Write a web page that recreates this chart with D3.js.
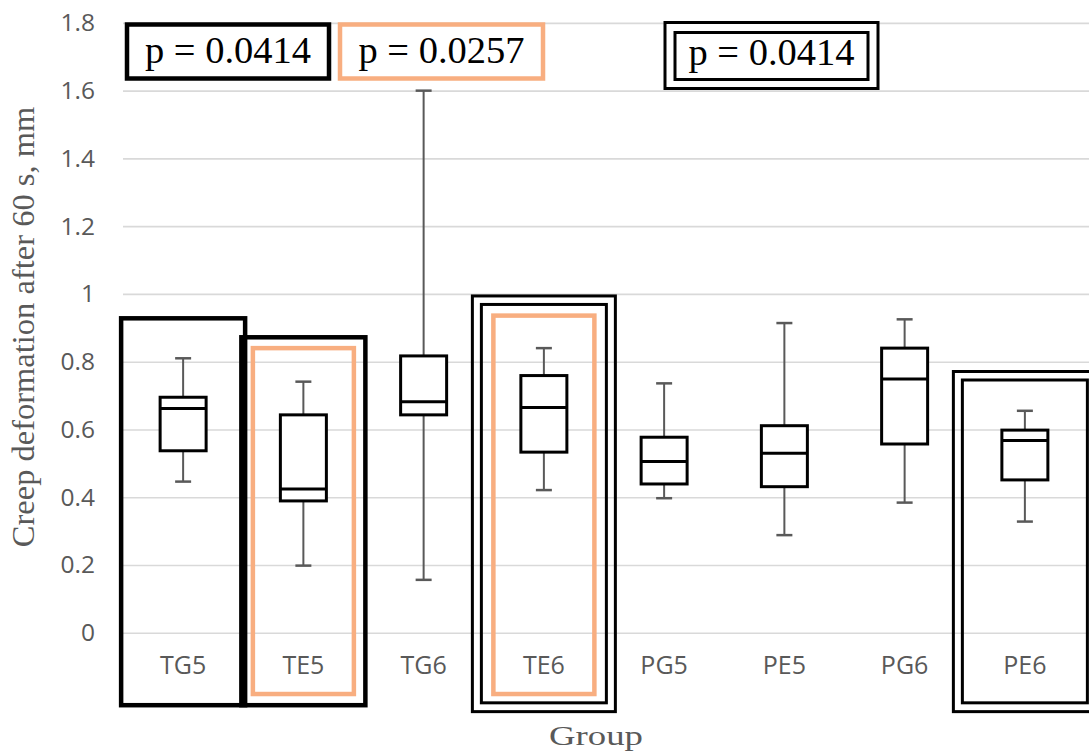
<!DOCTYPE html>
<html>
<head>
<meta charset="utf-8">
<script src="https://cdn.jsdelivr.net/npm/d3@7"></script>
<style>
  body { margin: 0; background: #fff; }
  svg { display: block; }
</style>
</head>
<body>
<div id="chart"></div>
<script>
// box plot values
var categories = ["TG5", "TE5", "TG6", "TE6", "PG5", "PE5", "PG6", "PE6"];
var whiskerMin = [0.446, 0.198, 0.156, 0.421, 0.397, 0.288, 0.384, 0.328];
var q1         = [0.537, 0.389, 0.643, 0.533, 0.439, 0.431, 0.557, 0.451];
var median     = [0.662, 0.424, 0.682, 0.665, 0.505, 0.530, 0.749, 0.567];
var q3         = [0.695, 0.643, 0.817, 0.759, 0.577, 0.611, 0.840, 0.598];
var whiskerMax = [0.810, 0.741, 1.600, 0.840, 0.736, 0.914, 0.925, 0.655];
var yTicks = [0, 0.2, 0.4, 0.6, 0.8, 1, 1.2, 1.4, 1.6, 1.8];

// highlight frames round some groups (top of frame in data units)
var frameCats  = ["TG5", "TE5", "TE6", "PE6"];
var frameTop   = [0.928, 0.872, 0.994, 0.771];
var frameKind  = ["single", "single", "double", "double"];
var orangeCats = ["TE5", "TE6"];
var orangeTop  = [0.840, 0.936];

var pLabels = ["p = 0.0414", "p = 0.0257", "p = 0.0414"];

var W = 1089, H = 756;
var margin = {top: 22.9, left: 123, right: 4, bottom: 123.3};
var grey = "#595959", orange = "#f8ae80";

var svg = d3.select("#chart").append("svg")
    .attr("width", W)
    .attr("height", H);

var x = d3.scaleBand()
    .domain(categories)
    .range([margin.left, W - margin.right])
    .padding(0);

var y = d3.scaleLinear()
    .domain([0, 1.8])
    .range([H - margin.bottom, margin.top]);

// gridlines
svg.append("g")
    .attr("transform", "translate(" + margin.left + ",0)")
    .call(d3.axisLeft(y).tickValues(yTicks).tickSize(-(W - margin.left)).tickFormat(""))
    .call(function(g) { g.select(".domain").remove(); })
    .selectAll("line")
    .attr("stroke", "#d9d9d9")
    .attr("stroke-width", 1.6);

// y tick labels
svg.append("g")
    .attr("transform", "translate(" + 95 + ",0)")
    .call(d3.axisLeft(y).tickValues(yTicks).tickSize(0).tickPadding(0)
        .tickFormat(function(d) { return String(+d.toFixed(1)); }))
    .call(function(g) { g.select(".domain").remove(); })
    .selectAll("text")
    .attr("fill", grey)
    .style("font-family", "'Open Sans', sans-serif")
    .style("font-size", "24.5px");

var cx = function(c) { return x(c) + x.bandwidth() / 2; };
var bottomVal = -0.214;

// black frames
frameCats.forEach(function(c, i) {
  if (frameKind[i] == "single") {
    svg.append("rect")
        .attr("x", cx(c) - 62).attr("width", 124)
        .attr("y", y(frameTop[i]))
        .attr("height", y(bottomVal) - y(frameTop[i]))
        .attr("fill", "none").attr("stroke", "#000").attr("stroke-width", 4.5);
  } else {
    svg.append("rect")
        .attr("x", cx(c) - 71.5).attr("width", 143)
        .attr("y", y(frameTop[i]))
        .attr("height", y(-0.233) - y(frameTop[i]))
        .attr("fill", "none").attr("stroke", "#000").attr("stroke-width", 3);
    var innerTop = y(frameTop[i]) + 8.5;
    svg.append("rect")
        .attr("x", cx(c) - 62.5).attr("width", 125)
        .attr("y", innerTop)
        .attr("height", y(-0.207) - innerTop)
        .attr("fill", "none").attr("stroke", "#000").attr("stroke-width", 3);
  }
});

// orange frames
orangeCats.forEach(function(c, i) {
  svg.append("rect")
      .attr("x", cx(c) - 50.5).attr("width", 101)
      .attr("y", y(orangeTop[i]))
      .attr("height", y(-0.181) - y(orangeTop[i]))
      .attr("fill", "none").attr("stroke", orange).attr("stroke-width", 4.5);
});

// boxes
var boxW = 46, capW = 16;
var g = svg.selectAll(".box")
    .data(categories)
    .enter().append("g")
    .attr("class", "box");

g.append("line")
    .attr("x1", cx).attr("x2", cx)
    .attr("y1", function(d, i) { return y(whiskerMin[i]); })
    .attr("y2", function(d, i) { return y(whiskerMax[i]); })
    .attr("stroke", grey).attr("stroke-width", 2);

[whiskerMin, whiskerMax].forEach(function(arr) {
  g.append("line")
      .attr("x1", function(d) { return cx(d) - capW / 2; })
      .attr("x2", function(d) { return cx(d) + capW / 2; })
      .attr("y1", function(d, i) { return y(arr[i]); })
      .attr("y2", function(d, i) { return y(arr[i]); })
      .attr("stroke", grey).attr("stroke-width", 2.5);
});

g.append("rect")
    .attr("x", function(d) { return cx(d) - boxW / 2; })
    .attr("width", boxW)
    .attr("y", function(d, i) { return y(q3[i]); })
    .attr("height", function(d, i) { return y(q1[i]) - y(q3[i]); })
    .attr("fill", "#fff").attr("stroke", "#000").attr("stroke-width", 3);

g.append("line")
    .attr("x1", function(d) { return cx(d) - boxW / 2; })
    .attr("x2", function(d) { return cx(d) + boxW / 2; })
    .attr("y1", function(d, i) { return y(median[i]); })
    .attr("y2", function(d, i) { return y(median[i]); })
    .attr("stroke", "#000").attr("stroke-width", 3);

// category labels
g.append("text")
    .attr("x", cx)
    .attr("y", 667)
    .attr("text-anchor", "middle")
    .attr("dominant-baseline", "middle")
    .attr("fill", grey)
    .style("font-family", "'Open Sans', sans-serif")
    .style("font-size", "25px")
    .text(function(d) { return d; });

// p-value boxes
var pBox = [
  {x: 127, y: 24.5, w: 202, h: 54, stroke: "#000", sw: 4.5},
  {x: 340, y: 24.5, w: 203, h: 54, stroke: orange, sw: 4.5},
  {x: 665, y: 22.5, w: 213, h: 66, stroke: "#000", sw: 3}
];
pBox.forEach(function(b, i) {
  svg.append("rect")
      .attr("x", b.x).attr("y", b.y).attr("width", b.w).attr("height", b.h)
      .attr("fill", "#fff").attr("stroke", b.stroke).attr("stroke-width", b.sw);
  if (i == 2) {
    svg.append("rect")
        .attr("x", b.x + 10).attr("y", b.y + 10).attr("width", b.w - 20).attr("height", b.h - 19)
        .attr("fill", "none").attr("stroke", "#000").attr("stroke-width", 3);
  }
  svg.append("text")
      .attr("x", b.x + b.w / 2)
      .attr("y", i == 2 ? 64.5 : 63)
      .attr("text-anchor", "middle")
      .attr("fill", "#000")
      .style("font-family", "'Liberation Serif', 'Times New Roman', serif")
      .style("font-size", "38.5px")
      .text(pLabels[i]);
});

// axis titles
svg.append("text")
    .attr("transform", "translate(34," + 327 + ") rotate(-90)")
    .attr("text-anchor", "middle")
    .attr("fill", grey)
    .style("font-family", "'Liberation Serif', 'Times New Roman', serif")
    .style("font-size", "32.5px")
    .text("Creep deformation after 60 s, mm");

svg.append("text")
    .attr("x", 596)
    .attr("y", 745)
    .attr("text-anchor", "middle")
    .attr("fill", grey)
    .attr("textLength", 94)
    .attr("lengthAdjust", "spacingAndGlyphs")
    .style("font-family", "'Liberation Serif', 'Times New Roman', serif")
    .style("font-size", "27px")
    .text("Group");
</script>
</body>
</html>
